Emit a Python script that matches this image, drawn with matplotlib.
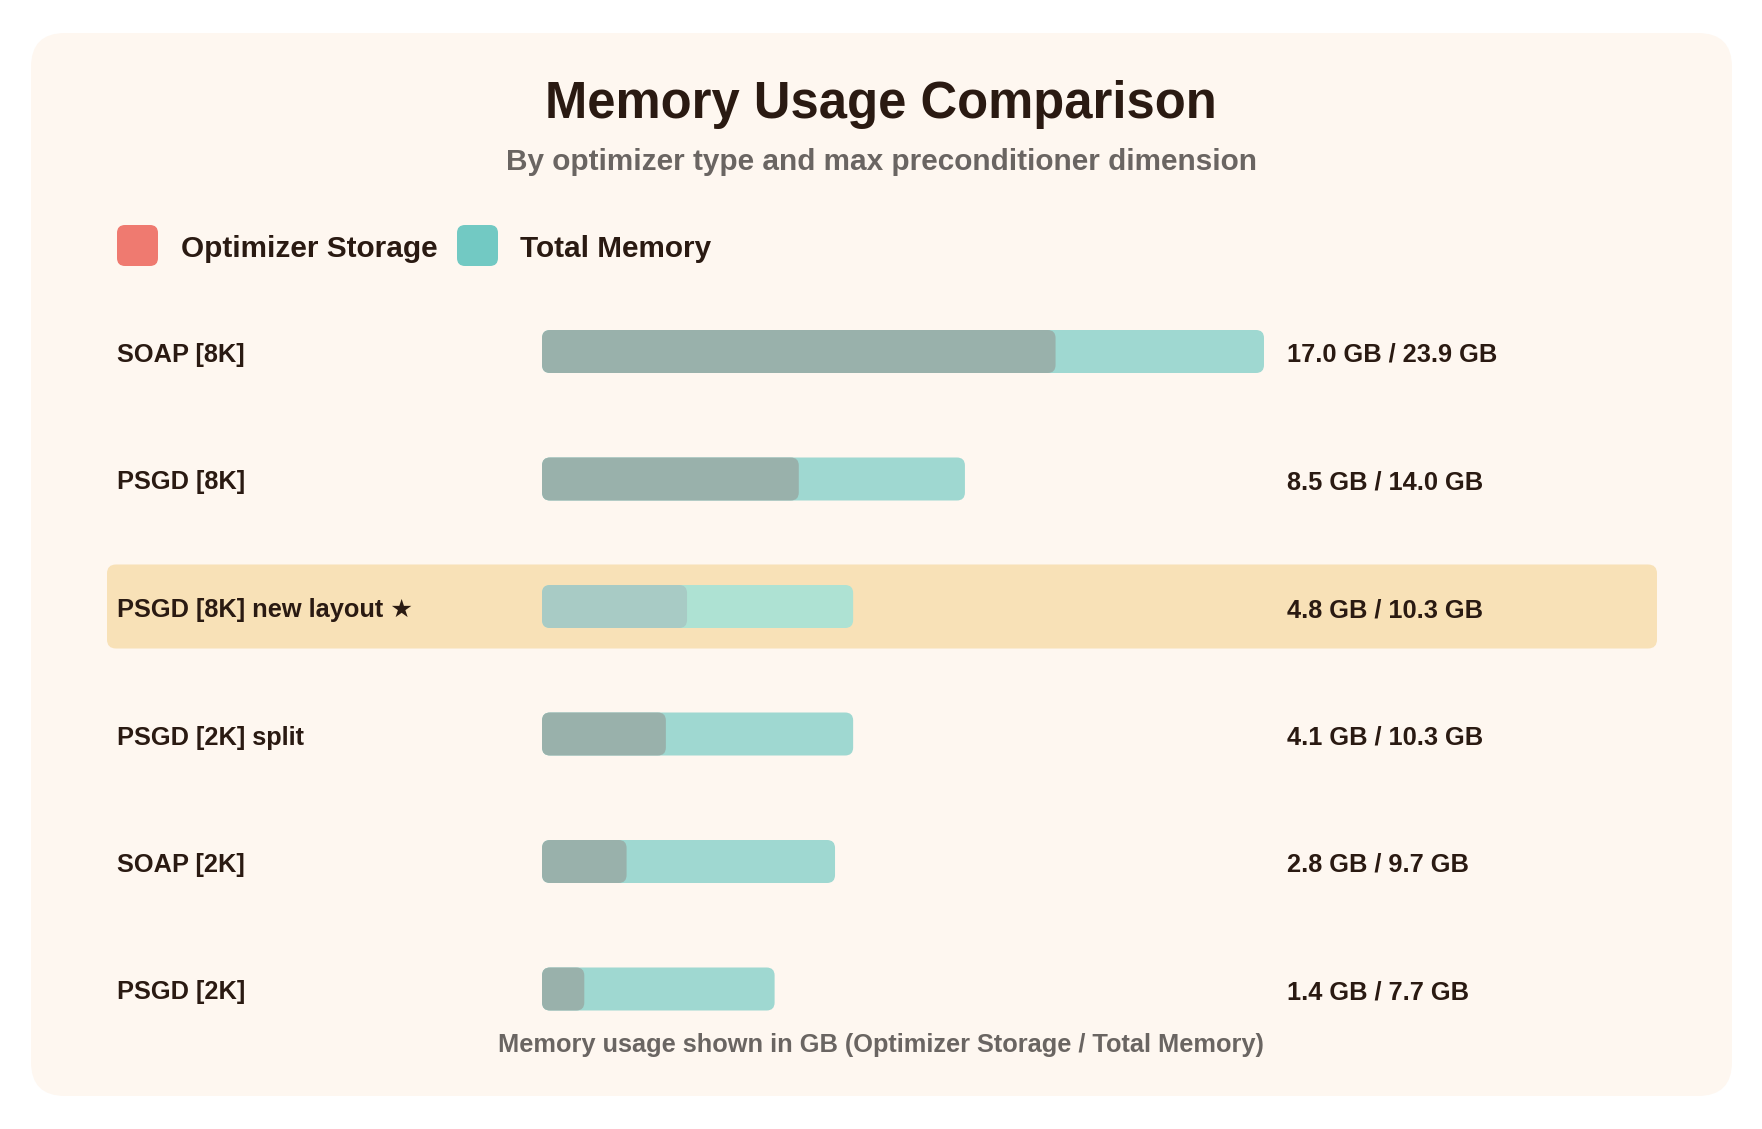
import matplotlib.pyplot as plt
import matplotlib.transforms as mtransforms
from matplotlib.patches import FancyBboxPatch

# --- data ---
labels = ["SOAP [8K]", "PSGD [8K]", "PSGD [8K] new layout \u2605",
          "PSGD [2K] split", "SOAP [2K]", "PSGD [2K]"]
storage_gb = [17.0, 8.5, 4.8, 4.1, 2.8, 1.4]
total_gb = [23.9, 14.0, 10.3, 10.3, 9.7, 7.7]
highlight = [False, False, True, False, False, False]

# --- colours ---
CARD = "#FEF7F0"
DARK = "#2A1A12"
GREY = "#6A6562"
RED = "#EF7A70"
TEAL = "#72C9C3"
TOTAL_C = "#9FD8D1"
STORE_C = "#99B1AB"
TOTAL_HI = "#AEE2D3"
STORE_HI = "#A8CBC5"
BAND = "#F8E1B7"

FONT = ["Liberation Sans", "DejaVu Sans"]
plt.rcParams["font.family"] = FONT

W, H = 1762, 1129
fig = plt.figure(figsize=(W / 100, H / 100), dpi=100)
fig.patch.set_facecolor("white")

# background axes in pixel units
bg = fig.add_axes([0, 0, 1, 1])
bg.set_xlim(0, W)
bg.set_ylim(H, 0)
bg.axis("off")

bg.add_patch(FancyBboxPatch((31, 33), 1701, 1063,
                            boxstyle="round,pad=0,rounding_size=34",
                            fc=CARD, ec="none"))

bg.text(881, 118, "Memory Usage Comparison", ha="center", va="baseline",
        fontsize=36.5, fontweight="bold", color=DARK)
bg.text(881, 170, "By optimizer type and max preconditioner dimension",
        ha="center", va="baseline", fontsize=21.4, fontweight="bold", color=GREY)

# legend
bg.add_patch(FancyBboxPatch((117, 225), 41, 41, boxstyle="round,pad=0,rounding_size=8",
                            fc=RED, ec="none"))
bg.text(181, 257, "Optimizer Storage", va="baseline", fontsize=21.4,
        fontweight="bold", color=DARK)
bg.add_patch(FancyBboxPatch((457, 225), 41, 41, boxstyle="round,pad=0,rounding_size=8",
                            fc=TEAL, ec="none"))
bg.text(520, 257, "Total Memory", va="baseline", fontsize=21.4,
        fontweight="bold", color=DARK)

bg.text(881, 1052, "Memory usage shown in GB (Optimizer Storage / Total Memory)",
        ha="center", va="baseline", fontsize=18.3, fontweight="bold", color=GREY)

# bar axes
n = len(labels)
row_px = 127.5
top_px = 351.5 - row_px / 2
bar_left, bar_w = 542, 722
ax = fig.add_axes([bar_left / W, 1 - (top_px + n * row_px) / H, bar_w / W, n * row_px / H])
ax.set_facecolor("none")
ax.set_xlim(0, max(total_gb))
ax.set_ylim(n - 0.5, -0.5)
ax.axis("off")

px_x = bar_w / max(total_gb)
aspect = px_x / row_px
rad = 8 / px_x
bh = 43 / row_px

row_tr = mtransforms.blended_transform_factory(bg.transData, ax.transData)

for i in range(n):
    if highlight[i]:
        ax.add_patch(FancyBboxPatch((107, i - 42 / row_px), 1550, 84 / row_px,
                                    boxstyle="round,pad=0,rounding_size=9",
                                    mutation_aspect=1 / row_px, transform=row_tr,
                                    fc=BAND, ec="none", clip_on=False, zorder=0.5))
    tc = TOTAL_HI if highlight[i] else TOTAL_C
    sc = STORE_HI if highlight[i] else STORE_C
    ax.add_patch(FancyBboxPatch((0, i - bh / 2), total_gb[i], bh,
                                boxstyle=f"round,pad=0,rounding_size={rad}",
                                mutation_aspect=aspect, fc=tc, ec="none",
                                clip_on=False, zorder=2))
    ax.add_patch(FancyBboxPatch((0, i - bh / 2), storage_gb[i], bh,
                                boxstyle=f"round,pad=0,rounding_size={rad}",
                                mutation_aspect=aspect, fc=sc, ec="none",
                                clip_on=False, zorder=3))
    ax.text(117, i + 10.5 / row_px, labels[i], transform=row_tr, va="baseline",
            fontsize=18.3, fontweight="bold", color=DARK, zorder=4)
    ax.text(1287, i + 10.5 / row_px, f"{storage_gb[i]:.1f} GB / {total_gb[i]:.1f} GB",
            transform=row_tr, va="baseline", fontsize=18.3, fontweight="bold",
            color=DARK, zorder=4)

fig.savefig("out.png", dpi=100, facecolor="white")
